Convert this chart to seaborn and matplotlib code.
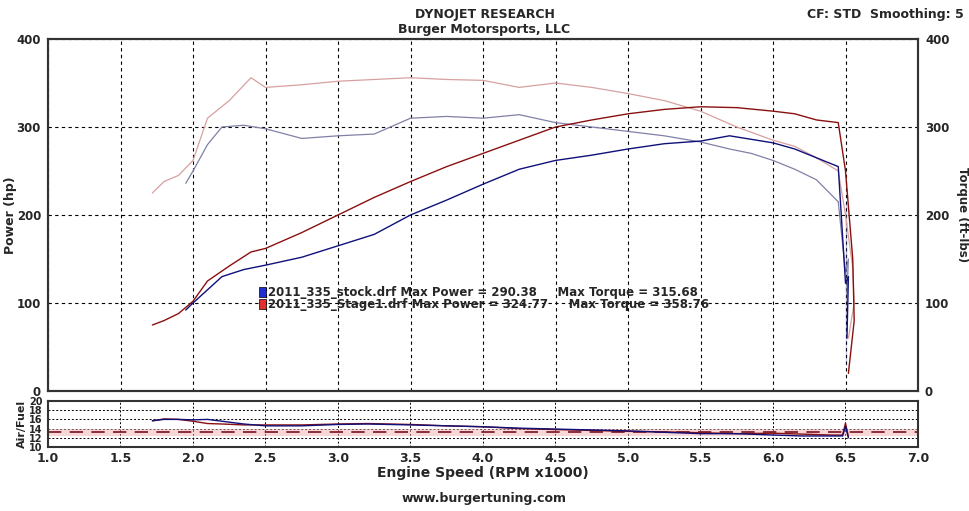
import numpy as np
import pandas as pd
import matplotlib.pyplot as plt
import seaborn as sns

# rpm x1000 / values
stock_rpm = [1.95, 2.0, 2.1, 2.2, 2.35, 2.5, 2.75, 3.0, 3.25, 3.5, 3.75, 4.0, 4.25, 4.5, 4.75, 5.0, 5.25, 5.5, 5.7, 5.85, 6.0, 6.15, 6.3, 6.45, 6.5, 6.52, 6.51, 6.5]
stock_hp = [92, 100, 115, 130, 138, 143, 152, 165, 178, 200, 217, 235, 252, 262, 268, 275, 281, 284, 290, 286, 282, 275, 265, 255, 215, 130, 60, 30]
stock_tq = [236, 250, 280, 300, 302, 298, 287, 290, 292, 310, 312, 310, 314, 305, 300, 295, 290, 283, 275, 270, 262, 252, 240, 215, 190, 150, 110, 80]

stage1_rpm = [1.72, 1.8, 1.9, 2.0, 2.1, 2.25, 2.4, 2.5, 2.75, 3.0, 3.25, 3.5, 3.75, 4.0, 4.25, 4.5, 4.75, 5.0, 5.25, 5.5, 5.75, 6.0, 6.15, 6.3, 6.45, 6.5, 6.55, 6.56, 6.52]
stage1_hp = [75, 80, 88, 102, 125, 142, 158, 162, 180, 200, 220, 238, 255, 270, 285, 300, 308, 315, 320, 323, 322, 318, 315, 308, 305, 250, 150, 80, 20]
stage1_tq = [225, 238, 245, 262, 310, 330, 356, 345, 348, 352, 354, 356, 354, 353, 345, 350, 345, 338, 330, 318, 300, 285, 278, 265, 250, 200, 140, 100, 60]

afr_rpm = [1.72, 1.8, 1.9, 2.0, 2.1, 2.2, 2.35, 2.5, 2.75, 3.0, 3.2, 3.5, 3.75, 4.0, 4.25, 4.5, 4.75, 5.0, 5.25, 5.5, 5.75, 6.0, 6.2, 6.4, 6.48, 6.5, 6.52]
stock_afr = [15.7, 16.0, 16.0, 15.9, 16.0, 15.6, 15.0, 14.6, 14.6, 14.9, 15.0, 14.8, 14.6, 14.4, 14.1, 13.9, 13.7, 13.5, 13.2, 12.9, 12.9, 12.6, 12.4, 12.4, 12.4, 14.5, 12.0]
stage1_afr = [15.7, 16.1, 16.0, 15.6, 15.1, 15.0, 14.8, 14.8, 14.8, 15.0, 15.1, 14.9, 14.6, 14.4, 14.0, 13.8, 13.6, 13.4, 13.3, 13.1, 12.9, 13.0, 12.8, 12.6, 12.6, 15.2, 12.2]
afr_target = 13.2

stock_col = '#10107a'
stage1_col = '#8a1010'
stock_tq_col = '#8080a8'
stage1_tq_col = '#d8a0a0'

sns.set_style('white')
fig = plt.figure(figsize=(9.69, 5.11), dpi=100)
fig.patch.set_facecolor('white')
ax = fig.add_axes([48 / 969, 1 - 391 / 511, 870 / 969, 352 / 511])
ax2 = fig.add_axes([48 / 969, 1 - 447 / 511, 870 / 969, 46 / 511])

sns.lineplot(x=stage1_rpm, y=stage1_tq, ax=ax, color=stage1_tq_col, lw=0.9, sort=False)
sns.lineplot(x=stock_rpm, y=stock_tq, ax=ax, color=stock_tq_col, lw=0.9, sort=False)
sns.lineplot(x=stage1_rpm, y=stage1_hp, ax=ax, color=stage1_col, lw=1, sort=False)
sns.lineplot(x=stock_rpm, y=stock_hp, ax=ax, color=stock_col, lw=1, sort=False)

ax.set_xlim(1.0, 7.0)
ax.set_ylim(0, 400)
ax.set_xticks(np.arange(1.0, 7.01, 0.5))
ax.set_xticklabels([])
ax.set_yticks([0, 100, 200, 300, 400])
ax.tick_params(axis='y', labelsize=8.5, length=0, pad=5)
for t in ax.get_yticklabels():
    t.set_fontweight('bold')
ax.grid(True, color='black', ls=(0, (3, 3)), lw=0.8)
ax.set_ylabel('Power (hp)', fontsize=9, fontweight='bold')
ax.yaxis.set_label_coords(-0.036, 0.5)
axr = ax.twinx()
axr.set_ylim(0, 400)
axr.set_yticks([0, 100, 200, 300, 400])
axr.tick_params(axis='y', labelsize=8.5, length=0, pad=5)
for t in axr.get_yticklabels():
    t.set_fontweight('bold')
axr.set_ylabel('Torque (ft-lbs)', fontsize=8.5, fontweight='bold', rotation=270, va='center')
axr.yaxis.set_label_coords(1.051, 0.5)
for a in (ax, axr):
    for s in a.spines.values():
        s.set_linewidth(1.5)
        s.set_color('#333333')

ax.text(2.52, 112, '2011_335_stock.drf Max Power = 290.38     Max Torque = 315.68',
        fontsize=8.5, fontweight='bold', va='center')
ax.text(2.52, 98, '2011_335_Stage1.drf Max Power = 324.77     Max Torque = 358.76',
        fontsize=8.5, fontweight='bold', va='center')
ax.add_patch(plt.Rectangle((2.455, 107), 0.045, 11, facecolor='#2030d0', edgecolor='black', lw=0.5))
ax.add_patch(plt.Rectangle((2.455, 93), 0.045, 11, facecolor='#e03030', edgecolor='black', lw=0.5))

ax2.axhline(afr_target, color='#f0b0b0', lw=5, alpha=0.5)
ax2.axhline(afr_target, color='#7a1020', lw=1.2, ls=(0, (8, 5)))
sns.lineplot(x=afr_rpm, y=stage1_afr, ax=ax2, color=stage1_col, lw=1, sort=False)
sns.lineplot(x=afr_rpm, y=stock_afr, ax=ax2, color=stock_col, lw=1, sort=False)
ax2.set_xlim(1.0, 7.0)
ax2.set_ylim(10, 20)
ax2.set_yticks([10, 12, 14, 16, 18, 20])
ax2.set_xticks(np.arange(1.0, 7.01, 0.5))
ax2.set_xticks(np.arange(1.0, 7.01, 0.1), minor=True)
ax2.tick_params(axis='y', labelsize=7, length=3, pad=1)
ax2.tick_params(axis='x', labelsize=9, length=4, direction='in')
ax2.tick_params(axis='x', which='minor', length=3, direction='in')
for t in ax2.get_yticklabels() + ax2.get_xticklabels():
    t.set_fontweight('bold')
ax2.grid(True, color='black', ls=(0, (2, 2)), lw=0.7)
for s in ax2.spines.values():
    s.set_linewidth(1.5)
    s.set_color('#333333')
ax2.set_ylabel('Air/Fuel', fontsize=8, fontweight='bold', labelpad=1)
ax2.set_xlabel('Engine Speed (RPM x1000)', fontsize=10, fontweight='bold', labelpad=1)

fig.text(0.5, 0.985, 'DYNOJET RESEARCH', ha='center', va='top', fontsize=9, fontweight='bold')
fig.text(0.5, 0.955, 'Burger Motorsports, LLC', ha='center', va='top', fontsize=9, fontweight='bold')
fig.text(0.995, 0.985, 'CF: STD  Smoothing: 5', ha='right', va='top', fontsize=9, fontweight='bold')
fig.text(0.5, 0.012, 'www.burgertuning.com', ha='center', va='bottom', fontsize=9, fontweight='bold')

fig.savefig('out.png', dpi=100)
